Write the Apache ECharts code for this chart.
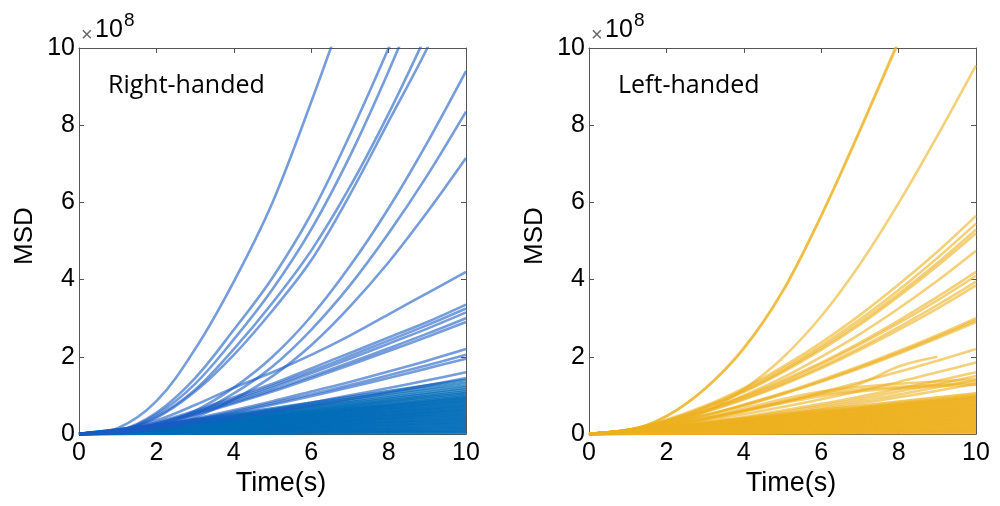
<!DOCTYPE html>
<html>
<head>
<meta charset="utf-8">
<script src="https://cdn.jsdelivr.net/npm/echarts@6/dist/echarts.min.js"></script>
<style>
  html, body { margin: 0; padding: 0; background: #fff; }
  #chart { width: 1000px; height: 506px; }
</style>
</head>
<body>
<div id="chart"></div>
<script>
// time samples (s)
var tFine = [0, 1, 2, 3, 4, 5, 6, 7, 8, 9, 10];
var tCoarse = [0, 2, 4, 6, 8, 10];

// MSD (x1e8), right-handed, read at tFine
var rhFast = [
    [0, 0.15, 0.85, 2.2, 3.95, 6.0, 8.6, 11.4],
    [0, 0.08, 0.55, 1.45, 2.7, 4.05, 5.7, 7.75, 10.0, 12.4],
    [0, 0.07, 0.5, 1.3, 2.45, 3.75, 5.3, 7.2, 9.4, 11.8],
    [0, 0.07, 0.45, 1.15, 2.2, 3.4, 4.75, 6.4, 8.3, 10.4],
    [0, 0.07, 0.42, 1.1, 2.05, 3.2, 4.5, 6.2, 8.1, 10.0, 12.2],
    [0, 0.04, 0.22, 0.6, 1.2, 2.0, 3.05, 4.35, 5.85, 7.55, 9.4],
    [0, 0.035, 0.19, 0.52, 1.05, 1.75, 2.7, 3.85, 5.2, 6.7, 8.35],
    [0, 0.03, 0.16, 0.44, 0.9, 1.5, 2.3, 3.3, 4.45, 5.75, 7.15]
];
var rhMid = [
    [0, 0.1, 0.35, 0.75, 1.2, 1.6, 2.05, 2.55, 3.1, 3.65, 4.2],
    [0, 0.07, 0.3, 0.6, 0.95, 1.3, 1.7, 2.1, 2.5, 2.9, 3.35],
    [0, 0.07, 0.28, 0.57, 0.9, 1.25, 1.63, 2.02, 2.42, 2.82, 3.25],
    [0, 0.06, 0.27, 0.55, 0.87, 1.2, 1.57, 1.95, 2.34, 2.73, 3.15],
    [0, 0.06, 0.25, 0.52, 0.82, 1.14, 1.49, 1.85, 2.22, 2.6, 3.0],
    [0, 0.06, 0.24, 0.5, 0.79, 1.1, 1.44, 1.79, 2.15, 2.52, 2.9],
    [0, 0.05, 0.2, 0.4, 0.62, 0.85, 1.1, 1.35, 1.62, 1.9, 2.2],
    [0, 0.05, 0.19, 0.37, 0.58, 0.8, 1.03, 1.27, 1.52, 1.78, 2.05],
    [0, 0.05, 0.18, 0.35, 0.55, 0.76, 0.98, 1.21, 1.45, 1.7, 1.95],
    [0, 0.04, 0.15, 0.3, 0.46, 0.63, 0.81, 1.0, 1.19, 1.39, 1.6],
    [0, 0.04, 0.14, 0.27, 0.42, 0.58, 0.74, 0.91, 1.08, 1.26, 1.45]
];
// dense bundle, read at tCoarse
var rhSlow = [
    [0, 0.24, 0.52, 0.81, 1.11, 1.4],
    [0, 0.23, 0.49, 0.77, 1.05, 1.33],
    [0, 0.21, 0.47, 0.73, 1.0, 1.26],
    [0, 0.2, 0.44, 0.7, 0.95, 1.2],
    [0, 0.2, 0.43, 0.67, 0.91, 1.15],
    [0, 0.19, 0.41, 0.64, 0.87, 1.1],
    [0, 0.18, 0.39, 0.61, 0.84, 1.06],
    [0, 0.17, 0.38, 0.59, 0.81, 1.02],
    [0, 0.17, 0.36, 0.57, 0.77, 0.98],
    [0, 0.16, 0.35, 0.55, 0.75, 0.95],
    [0, 0.16, 0.34, 0.53, 0.73, 0.92],
    [0, 0.15, 0.33, 0.52, 0.7, 0.89],
    [0, 0.15, 0.32, 0.5, 0.68, 0.86],
    [0, 0.14, 0.31, 0.48, 0.66, 0.83],
    [0, 0.14, 0.3, 0.46, 0.63, 0.8],
    [0, 0.13, 0.28, 0.45, 0.61, 0.77],
    [0, 0.13, 0.27, 0.43, 0.58, 0.74],
    [0, 0.12, 0.26, 0.41, 0.56, 0.71],
    [0, 0.12, 0.25, 0.39, 0.54, 0.68],
    [0, 0.11, 0.24, 0.38, 0.51, 0.65],
    [0, 0.11, 0.23, 0.36, 0.49, 0.62],
    [0, 0.1, 0.22, 0.34, 0.47, 0.59],
    [0, 0.1, 0.21, 0.32, 0.44, 0.56],
    [0, 0.09, 0.2, 0.31, 0.42, 0.53],
    [0, 0.085, 0.185, 0.29, 0.4, 0.5],
    [0, 0.08, 0.17, 0.27, 0.37, 0.47],
    [0, 0.075, 0.16, 0.26, 0.35, 0.44],
    [0, 0.07, 0.15, 0.24, 0.32, 0.41],
    [0, 0.065, 0.14, 0.22, 0.3, 0.38],
    [0, 0.06, 0.13, 0.2, 0.28, 0.35],
    [0, 0.055, 0.12, 0.19, 0.25, 0.32],
    [0, 0.05, 0.11, 0.17, 0.23, 0.29],
    [0, 0.044, 0.096, 0.15, 0.21, 0.26],
    [0, 0.039, 0.085, 0.13, 0.18, 0.23],
    [0, 0.034, 0.074, 0.12, 0.16, 0.2],
    [0, 0.029, 0.063, 0.1, 0.13, 0.17],
    [0, 0.024, 0.052, 0.08, 0.11, 0.14],
    [0, 0.019, 0.041, 0.064, 0.087, 0.11],
    [0, 0.014, 0.03, 0.046, 0.063, 0.08],
    [0, 0.009, 0.019, 0.029, 0.04, 0.05],
    [0, 0.005, 0.011, 0.017, 0.024, 0.03]
];

// MSD (x1e8), left-handed
var lhFast = [
    [0, 0.08, 0.46, 1.18, 2.23, 3.7, 5.65, 7.85, 10.15],
    [0, 0.08, 0.46, 1.17, 2.21, 3.68, 5.66, 7.88, 10.2],
    [0, 0.04, 0.22, 0.58, 1.16, 1.97, 3.05, 4.4, 5.98, 7.72, 9.55],
    [0, 0.11, 0.37, 0.73, 1.19, 1.74, 2.37, 3.08, 3.87, 4.72, 5.65],
    [0, 0.11, 0.35, 0.7, 1.14, 1.68, 2.29, 2.97, 3.73, 4.56, 5.45],
    [0, 0.1, 0.34, 0.68, 1.11, 1.63, 2.23, 2.89, 3.63, 4.43, 5.3],
    [0, 0.1, 0.34, 0.67, 1.09, 1.6, 2.18, 2.83, 3.56, 4.35, 5.2],
    [0, 0.1, 0.31, 0.61, 1.0, 1.46, 2.0, 2.59, 3.25, 3.97, 4.75]
];
var lhMid = [
    [0, 0.1, 0.32, 0.61, 0.97, 1.39, 1.85, 2.37, 2.94, 3.55, 4.2],
    [0, 0.1, 0.31, 0.6, 0.95, 1.35, 1.81, 2.32, 2.87, 3.46, 4.1],
    [0, 0.1, 0.3, 0.58, 0.91, 1.3, 1.74, 2.23, 2.77, 3.34, 3.95],
    [0, 0.1, 0.29, 0.56, 0.89, 1.27, 1.7, 2.18, 2.7, 3.25, 3.85],
    [0, 0.1, 0.27, 0.49, 0.76, 1.06, 1.4, 1.76, 2.15, 2.56, 3.0],
    [0, 0.09, 0.26, 0.48, 0.75, 1.04, 1.37, 1.73, 2.11, 2.52, 2.95],
    [0, 0.09, 0.26, 0.48, 0.73, 1.03, 1.35, 1.7, 2.08, 2.48, 2.9],
    [0, 0.09, 0.23, 0.41, 0.61, 0.83, 1.08, 1.34, 1.61, 1.9, 2.2],
    [0, 0.08, 0.22, 0.4, 0.6, 0.82, 1.05, 1.3, 1.75, 2.0],
    [0, 0.07, 0.19, 0.34, 0.51, 0.7, 0.9, 1.12, 1.35, 1.6, 1.85],
    [0, 0.06, 0.17, 0.3, 0.44, 0.61, 0.78, 0.97, 1.17, 1.38, 1.6],
    [0, 0.06, 0.16, 0.28, 0.42, 0.57, 0.73, 0.91, 1.1, 1.29, 1.5],
    [0, 0.06, 0.15, 0.26, 0.39, 0.53, 0.68, 0.85, 1.02, 1.21, 1.4],
    [0, 0.05, 0.14, 0.24, 0.36, 0.49, 0.64, 0.79, 0.95, 1.12, 1.3],
    [0, 0.07, 0.22, 0.42, 0.66, 0.9, 1.1, 1.22, 1.3, 1.36, 1.42],
    [0, 0.06, 0.2, 0.39, 0.61, 0.84, 1.03, 1.15, 1.22, 1.28, 1.34],
    [0, 0.06, 0.19, 0.37, 0.58, 0.8, 0.98, 1.1, 1.18, 1.24, 1.28]
];
var lhSlow = [
    [0, 0.18, 0.4, 0.62, 0.84, 1.05],
    [0, 0.17, 0.37, 0.58, 0.79, 1.0],
    [0, 0.17, 0.36, 0.56, 0.77, 0.97],
    [0, 0.16, 0.35, 0.55, 0.75, 0.95],
    [0, 0.16, 0.34, 0.53, 0.73, 0.92],
    [0, 0.15, 0.33, 0.52, 0.7, 0.89],
    [0, 0.15, 0.32, 0.5, 0.68, 0.86],
    [0, 0.14, 0.31, 0.48, 0.66, 0.83],
    [0, 0.14, 0.3, 0.46, 0.63, 0.8],
    [0, 0.13, 0.28, 0.45, 0.61, 0.77],
    [0, 0.13, 0.27, 0.43, 0.58, 0.74],
    [0, 0.12, 0.26, 0.41, 0.56, 0.71],
    [0, 0.12, 0.25, 0.39, 0.54, 0.68],
    [0, 0.11, 0.24, 0.38, 0.51, 0.65],
    [0, 0.11, 0.23, 0.36, 0.49, 0.62],
    [0, 0.1, 0.22, 0.34, 0.47, 0.59],
    [0, 0.1, 0.21, 0.32, 0.44, 0.56],
    [0, 0.09, 0.2, 0.31, 0.42, 0.53],
    [0, 0.085, 0.185, 0.29, 0.4, 0.5],
    [0, 0.08, 0.17, 0.27, 0.37, 0.47],
    [0, 0.075, 0.16, 0.26, 0.35, 0.44],
    [0, 0.07, 0.15, 0.24, 0.32, 0.41],
    [0, 0.065, 0.14, 0.22, 0.3, 0.38],
    [0, 0.06, 0.13, 0.2, 0.28, 0.35],
    [0, 0.055, 0.12, 0.19, 0.25, 0.32],
    [0, 0.05, 0.11, 0.17, 0.23, 0.29],
    [0, 0.044, 0.096, 0.15, 0.21, 0.26],
    [0, 0.039, 0.085, 0.13, 0.18, 0.23],
    [0, 0.034, 0.074, 0.12, 0.16, 0.2],
    [0, 0.029, 0.063, 0.1, 0.13, 0.17],
    [0, 0.024, 0.052, 0.08, 0.11, 0.14],
    [0, 0.019, 0.041, 0.064, 0.087, 0.11],
    [0, 0.014, 0.03, 0.046, 0.063, 0.08],
    [0, 0.009, 0.019, 0.029, 0.04, 0.05],
    [0, 0.005, 0.011, 0.017, 0.024, 0.03]
];

var blueLight = 'rgba(25,92,195,0.6)';
var blueDense = 'rgba(0,108,185,0.72)';
var gold = 'rgba(237,177,32,0.6)';
var goldDense = 'rgba(237,177,32,0.75)';
var axisColor = '#555';
var labelFont = 'Liberation Sans, Arial, sans-serif';

function makeLines(curves, times, grid, color, width) {
    return curves.map(function (vals) {
        return {
            type: 'line',
            xAxisIndex: grid * 2,
            yAxisIndex: grid * 2,
            showSymbol: false,
            smooth: 0.35,
            clip: true,
            silent: true,
            lineStyle: { color: color, width: width },
            data: vals.map(function (v, i) { return [times[i], v]; })
        };
    });
}

function axesFor(grid, dim) {
    var base = {
        gridIndex: grid, type: 'value', min: 0, max: 10, interval: 2,
        axisLine: { show: true, onZero: false, lineStyle: { color: axisColor, width: 1 } },
        axisTick: { show: true, inside: true, length: 5, lineStyle: { color: axisColor } },
        splitLine: { show: false }
    };
    var main = Object.assign({}, base, {
        position: dim === 'x' ? 'bottom' : 'left',
        axisLabel: { color: '#000', fontSize: 25, fontFamily: labelFont, margin: dim === 'x' ? 7 : 4 }
    });
    var mirror = Object.assign({}, base, {
        position: dim === 'x' ? 'top' : 'right',
        axisLabel: { show: false }
    });
    return [main, mirror];
}

function text(x, y, str, size, opts) {
    return {
        type: 'text', x: x, y: y, silent: true,
        style: Object.assign({ text: str, font: size + 'px ' + labelFont, fill: '#000', verticalAlign: 'middle', align: 'left' }, opts || {})
    };
}

var chart = echarts.init(document.getElementById('chart'));
var series = [].concat(
    makeLines(rhSlow, tCoarse, 0, blueDense, 2.8),
    makeLines(rhMid, tFine, 0, blueLight, 2.6),
    makeLines(rhFast, tFine, 0, blueLight, 2.6),
    makeLines(lhSlow, tCoarse, 1, goldDense, 2.8),
    makeLines(lhMid, tFine, 1, gold, 2.6),
    makeLines(lhFast, tFine, 1, gold, 2.6)
);

var graphics = [];
[0, 510].forEach(function (dx, k) {
    graphics.push(text(dx + 81, 35, '\u00d7', 20, { fill: '#666' }));
    graphics.push(text(dx + 95, 30, '10', 25));
    graphics.push(text(dx + 124, 21, '8', 19));
    graphics.push(text(dx + 281, 484, 'Time(s)', 27, { align: 'center' }));
    graphics.push({
        type: 'text', x: dx + 25, y: 236, rotation: Math.PI / 2, silent: true,
        style: { text: 'MSD', font: '26px ' + labelFont, fill: '#000', align: 'center', verticalAlign: 'middle' }
    });
    graphics.push(text(dx + 108, 86, k === 0 ? 'Right-handed' : 'Left-handed', 25,
        { font: '25px "Open Sans", sans-serif' }));
});

chart.setOption({
    animation: false,
    grid: [
        { left: 79, top: 48, width: 387, height: 386 },
        { left: 589, top: 48, width: 387, height: 386 }
    ],
    xAxis: axesFor(0, 'x').concat(axesFor(1, 'x')),
    yAxis: axesFor(0, 'y').concat(axesFor(1, 'y')),
    series: series,
    graphic: graphics
});
</script>
</body>
</html>
